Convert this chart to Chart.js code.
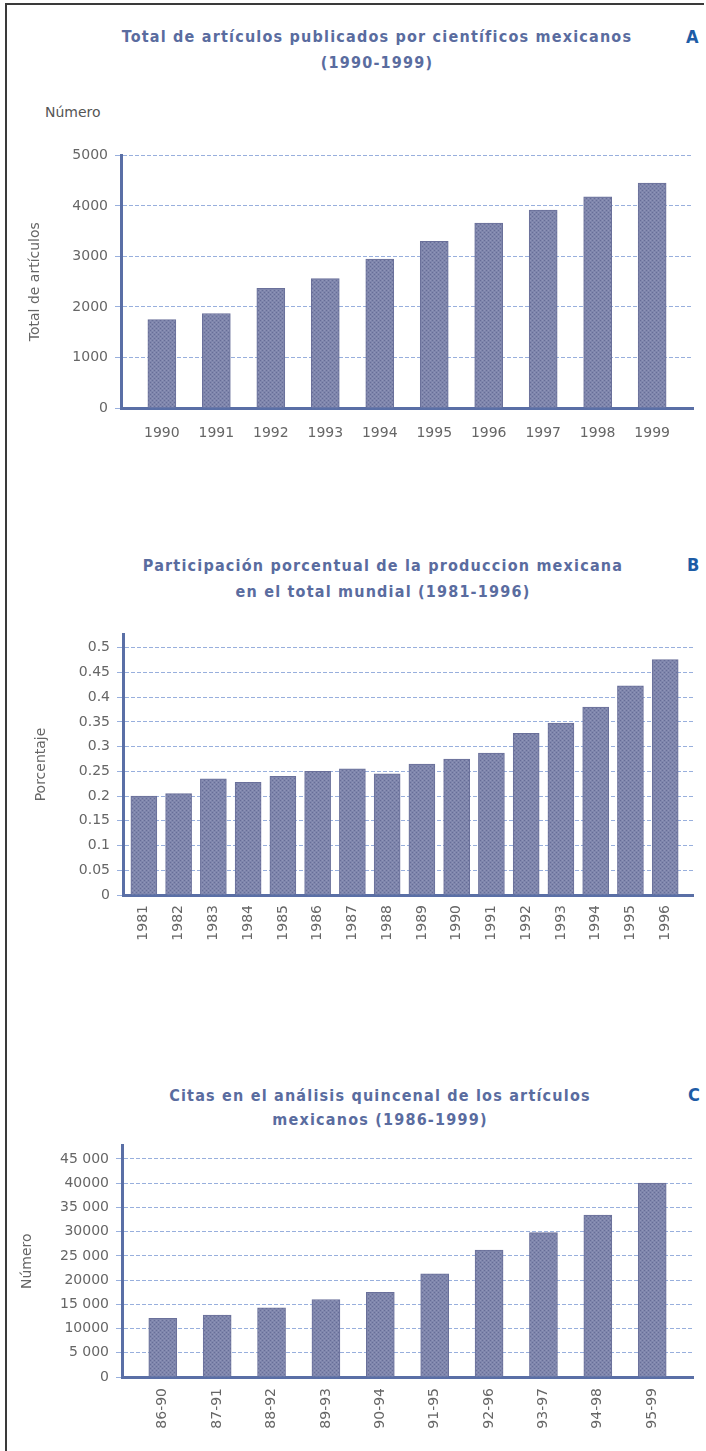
<!DOCTYPE html>
<html>
<head>
    <title>Producción científica mexicana</title>
    <script src="https://cdn.jsdelivr.net/npm/chart.js"></script>
    <style>
        body { margin: 0; background: #fff; }
        #page { position: relative; width: 706px; height: 1451px; overflow: hidden; }
        #frame { position: absolute; left: 5px; top: 3px; width: 697px; height: 1460px;
                 border-left: 2px solid #3a3a3a; border-top: 2px solid #3a3a3a; }
        .title { position: absolute; font-family: "DejaVu Sans Condensed"; font-weight: bold;
                 font-size: 16px; letter-spacing: 1.2px; color: #5a6c9f; text-align: center;
                 line-height: 26px; white-space: nowrap; }
        .letter { position: absolute; font-family: "DejaVu Sans Condensed"; font-weight: bold;
                  font-size: 18px; color: #1d5ca6; }
        .note { position: absolute; font-family: "DejaVu Sans"; font-size: 14px; color: #555; }
        canvas { position: absolute; left: 0; }
    </style>
</head>
<body>
<div id="page">
    <div id="frame"></div>

    <div class="title" style="left:77px; width:600px; top:24px;">Total de artículos publicados por científicos mexicanos<br>(1990-1999)</div>
    <div class="letter" style="left:686px; top:26px;">A</div>
    <div class="note" style="left:45px; top:104px;">Número</div>
    <canvas id="chartA" width="706" height="320" style="top:140px;"></canvas>

    <div class="title" style="left:83px; width:600px; top:553px;">Participación porcentual de la produccion mexicana<br>en el total mundial (1981-1996)</div>
    <div class="letter" style="left:687px; top:554px;">B</div>
    <canvas id="chartB" width="706" height="360" style="top:600px;"></canvas>

    <div class="title" style="left:80px; width:600px; top:1084px; line-height:24px;">Citas en el análisis quincenal de los artículos<br>mexicanos (1986-1999)</div>
    <div class="letter" style="left:688px; top:1084px;">C</div>
    <canvas id="chartC" width="706" height="321" style="top:1130px;"></canvas>
</div>

<script>
    // A: total de artículos por año
    const yearsA = ['1990', '1991', '1992', '1993', '1994', '1995', '1996', '1997', '1998', '1999'];
    const articlesA = [1750, 1870, 2370, 2560, 2950, 3300, 3660, 3920, 4180, 4450];
    const yTicksA = [0, 1000, 2000, 3000, 4000, 5000];
    const yTickLabelsA = ['0', '1000', '2000', '3000', '4000', '5000'];

    // B: participación porcentual en el total mundial
    const yearsB = ['1981', '1982', '1983', '1984', '1985', '1986', '1987', '1988',
                    '1989', '1990', '1991', '1992', '1993', '1994', '1995', '1996'];
    const shareB = [0.200, 0.205, 0.235, 0.228, 0.240, 0.250, 0.255, 0.245,
                    0.265, 0.275, 0.287, 0.327, 0.348, 0.380, 0.423, 0.476];
    const yTicksB = [0, 0.05, 0.1, 0.15, 0.2, 0.25, 0.3, 0.35, 0.4, 0.45, 0.5];
    const yTickLabelsB = ['0', '0.05', '0.1', '0.15', '0.2', '0.25', '0.3', '0.35', '0.4', '0.45', '0.5'];

    // C: citas por quinquenio
    const periodsC = ['86-90', '87-91', '88-92', '89-93', '90-94', '91-95', '92-96', '93-97', '94-98', '95-99'];
    const citesC = [12100, 12800, 14300, 16000, 17500, 21300, 26200, 29800, 33400, 40000];
    const yTicksC = [0, 5000, 10000, 15000, 20000, 25000, 30000, 35000, 40000, 45000];
    const yTickLabelsC = ['0', '5 000', '10000', '15 000', '20000', '25 000', '30000', '35 000', '40000', '45 000'];

    const axisBlue = '#5a6fa6';
    const gridBlue = '#98afdd';
    const tickFont = { family: 'DejaVu Sans', size: 14 };
    const tickColor = '#666';

    // dotted fill like the printed bars
    function barPattern() {
        const c = document.createElement('canvas');
        c.width = 4; c.height = 4;
        const g = c.getContext('2d');
        g.fillStyle = '#7f86ac'; g.fillRect(0, 0, 4, 4);
        g.fillStyle = '#676d97'; g.fillRect(0, 0, 1, 1); g.fillRect(2, 2, 1, 1);
        g.fillStyle = '#9094b8'; g.fillRect(2, 0, 1, 1); g.fillRect(0, 2, 1, 1);
        return g.createPattern(c, 'repeat');
    }

    function barChart(id, labels, values, yTicks, yLabels, o) {
        const ctx = document.getElementById(id).getContext('2d');
        return new Chart(ctx, {
            type: 'bar',
            data: {
                datasets: [{
                    data: values.map((v, i) => ({ x: i, y: v })),
                    backgroundColor: barPattern(),
                    borderColor: '#6a709a',
                    borderWidth: 1,
                    barThickness: o.barWidth
                }]
            },
            options: {
                responsive: false,
                animation: false,
                layout: { padding: { top: o.padTop, right: 13, left: 0, bottom: 0 } },
                plugins: { legend: { display: false }, tooltip: { enabled: false } },
                scales: {
                    x: {
                        type: 'linear',
                        min: o.xMin,
                        max: o.xMax,
                        offset: false,
                        afterBuildTicks: s => { s.ticks = labels.map((l, i) => ({ value: i })); },
                        afterFit: s => { s.height = o.xHeight; },
                        grid: { display: false, drawTicks: false, offset: false },
                        border: { display: true, color: axisBlue, width: 3 },
                        ticks: {
                            callback: v => labels[v],
                            font: tickFont,
                            color: tickColor,
                            padding: o.xPad,
                            minRotation: o.rot,
                            maxRotation: o.rot,
                            autoSkip: false
                        }
                    },
                    y: {
                        min: 0,
                        max: o.yMax,
                        afterBuildTicks: s => { s.ticks = yTicks.map(v => ({ value: v })); },
                        afterFit: s => { s.width = o.yWidth; },
                        grid: { color: gridBlue, lineWidth: 1, tickLength: 6 },
                        border: { display: true, color: axisBlue, width: 3, dash: [4, 2] },
                        ticks: {
                            callback: (v, i) => yLabels[i],
                            font: tickFont,
                            color: tickColor,
                            padding: 7
                        },
                        title: {
                            display: true,
                            text: o.yTitle,
                            font: { family: 'DejaVu Sans', size: 14 },
                            color: '#666',
                            padding: { top: o.titlePad, bottom: 0 }
                        }
                    }
                }
            }
        });
    }

    barChart('chartA', yearsA, articlesA, yTicksA, yTickLabelsA, {
        barWidth: 28, padTop: 8, xHeight: 52, xMin: -0.75, xMax: 9.75, xPad: 17, rot: 0,
        yMax: 5000, yWidth: 121, yTitle: 'Total de artículos', titlePad: 27
    });

    barChart('chartB', yearsB, shareB, yTicksB, yTickLabelsB, {
        barWidth: 26, padTop: 34, xHeight: 65, xMin: -0.6, xMax: 15.8, xPad: 10, rot: 90,
        yMax: 0.528, yWidth: 123, yTitle: 'Porcentaje', titlePad: 33
    });

    barChart('chartC', periodsC, citesC, yTicksC, yTickLabelsC, {
        barWidth: 28, padTop: 10, xHeight: 74, xMin: -0.75, xMax: 9.75, xPad: 11, rot: 90,
        yMax: 47800, yWidth: 122, yTitle: 'Número', titlePad: 19
    });
</script>
</body>
</html>
